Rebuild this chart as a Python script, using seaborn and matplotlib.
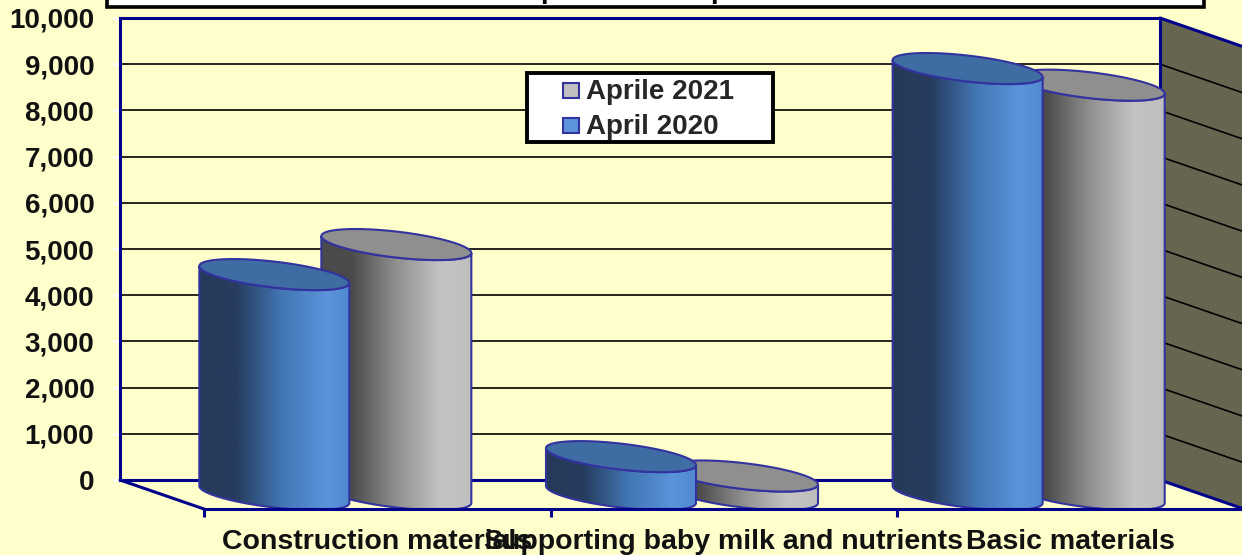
import numpy as np
import pandas as pd
import matplotlib
matplotlib.use("Agg")
import matplotlib.pyplot as plt
import seaborn as sns
from matplotlib.colors import LinearSegmentedColormap
from matplotlib.legend_handler import HandlerPatch
from matplotlib.patches import Patch, Polygon, Rectangle
from matplotlib.transforms import ScaledTranslation

materials = ["Construction materials", "Supporting baby milk and nutrients", "Basic materials"]
april_2020 = [4760, 820, 9220]
aprile_2021 = [5410, 400, 8860]
y_ticks = [0, 1000, 2000, 3000, 4000, 5000, 6000, 7000, 8000, 9000, 10000]

BG = "#FFFFCC"
NAVY = "#00008B"
EDGE = "#3333A0"
WALL = "#666650"
FONT = "Liberation Sans"

# pixels on the picture -> data units
W, H = 1242, 555
AX_L, AX_R, AX_T, AX_B = 120, 1160, 18, 480
PX_X = 3 / (AX_R - AX_L)
PX_Y = 10000 / (AX_B - AX_T)
DEPTH_X = 84 * PX_X
DEPTH_Y = 29 * PX_Y

df = pd.DataFrame({
    "material": materials * 2,
    "period": ["April 2020"] * 3 + ["Aprile 2021"] * 3,
    "value": april_2020 + aprile_2021,
})

sns.set_theme(style="white")
plt.rcParams["font.family"] = [FONT, "DejaVu Sans"]

fig = plt.figure(figsize=(W / 100, H / 100), dpi=100, facecolor=BG)
ax = fig.add_axes([AX_L / W, 1 - AX_B / H, (AX_R - AX_L) / W, (AX_B - AX_T) / H])
ax.set_facecolor(BG)

sns.barplot(data=df, x="material", y="value", hue="period",
            hue_order=["April 2020", "Aprile 2021"],
            palette=["#5B94DB", "#C0C0C0"], width=0.704, legend=False, ax=ax)
ax.set_xlim(-0.5, 2.5)
ax.set_ylim(0, 10000)
ax.set_autoscale_on(False)
ax.set_xlabel("")
ax.set_ylabel("")

blue_cmap = LinearSegmentedColormap.from_list("b", [(0, "#26395A"), (0.25, "#263C5E"), (0.55, "#4276B4"), (0.85, "#5B94DB"), (1, "#5089D0")])
grey_cmap = LinearSegmentedColormap.from_list("g", [(0, "#4A4A4A"), (0.2, "#4A4A4A"), (0.5, "#909090"), (0.8, "#C4C4C4"), (1, "#BEBEBE")])
gradient = np.linspace(0, 1, 256).reshape(1, -1)


def draw_cylinder(bar, cmap, top_color, z):
    cx = bar.get_x() + bar.get_width() / 2 + DEPTH_X / 2
    top = bar.get_height()
    base = -DEPTH_Y / 2
    top_y = top + base
    half = 75 * PX_X
    tilt = 8.5 * PX_Y
    minor = 13 * PX_Y
    floor = -DEPTH_Y

    t = np.linspace(0, np.pi, 80)
    # lower arc of an ellipse, right end to left end
    arc_x = cx + half * np.cos(t)
    arc_off = -tilt * np.cos(t) - minor * np.sin(t)
    body_x = np.r_[arc_x, arc_x[::-1]]
    body_y = np.r_[top_y + arc_off, np.maximum(base + arc_off, floor)[::-1]]
    body = Polygon(np.c_[body_x, body_y], closed=True, facecolor="none",
                   edgecolor=EDGE, lw=1.5, clip_on=False, zorder=z + 0.2)
    ax.add_patch(body)
    img = ax.imshow(gradient, cmap=cmap, aspect="auto", zorder=z,
                    extent=(cx - half, cx + half, floor, top_y + 1000))
    img.set_clip_box(fig.bbox)
    img.set_clip_path(body.get_path(), body.get_transform())

    s = np.linspace(0, 2 * np.pi, 160)
    ell_x = cx + half * np.cos(s)
    ell_y = top_y - tilt * np.cos(s) - minor * np.sin(s)
    ax.add_patch(Polygon(np.c_[ell_x, ell_y], closed=True, facecolor=top_color,
                         edgecolor=EDGE, lw=1.5, clip_on=False, zorder=z + 0.3))


for bar in ax.containers[1]:
    bar.set_visible(False)
    draw_cylinder(bar, grey_cmap, "#8F8F8F", 3)
for bar in ax.containers[0]:
    bar.set_visible(False)
    draw_cylinder(bar, blue_cmap, "#3F6DA3", 4)
ax.set_xlim(-0.5, 2.5)
ax.set_ylim(0, 10000)

# back wall grid and side wall
ax.set_yticks(y_ticks)
ax.set_yticklabels([f"{v:,}" for v in y_ticks], fontsize=20, fontweight="bold", color="#111111")
ax.hlines(y_ticks[1:-1], -0.5, 2.5, color="black", lw=1.2, zorder=1)
ax.tick_params(axis="y", length=5, width=2, color="white", pad=13.5, left=True)
for side in ["left", "top", "right", "bottom"]:
    ax.spines[side].set_visible(True)
    ax.spines[side].set_color(NAVY)
    ax.spines[side].set_linewidth(2.2)
    ax.spines[side].set_zorder(2)

x_r = 2.5
side_x = [x_r, x_r + DEPTH_X, x_r + DEPTH_X, x_r]
side_y = [10000, 10000 - DEPTH_Y, -DEPTH_Y, 0]
ax.add_patch(Polygon(np.c_[side_x, side_y], closed=True, facecolor=WALL, edgecolor="none",
                     clip_on=False, zorder=0.5))
for v in y_ticks[1:-1]:
    ax.plot([x_r, x_r + DEPTH_X], [v, v - DEPTH_Y], color="black", lw=1.2, clip_on=False, zorder=1)
ax.plot([x_r, x_r + DEPTH_X], [10000, 10000 - DEPTH_Y], color=NAVY, lw=2.2, clip_on=False, zorder=2)
ax.plot([x_r, x_r + DEPTH_X], [0, -DEPTH_Y], color=NAVY, lw=2.2, clip_on=False, zorder=2)
ax.plot([-0.5, -0.5 + DEPTH_X], [0, -DEPTH_Y], color=NAVY, lw=2.2, clip_on=False, zorder=2)
ax.plot([-0.5 + DEPTH_X, x_r + DEPTH_X], [-DEPTH_Y, -DEPTH_Y], color=NAVY, lw=2.2, clip_on=False, zorder=4.8)
for i in range(3):
    ax.plot([i - 0.5 + DEPTH_X] * 2, [-DEPTH_Y, -DEPTH_Y - 8 * PX_Y], color=NAVY, lw=2.2,
            clip_on=False, zorder=2, solid_capstyle="butt")

# category labels sit under the front edge of the floor
ax.tick_params(axis="x", length=0, pad=35)
shift = ScaledTranslation(84 / 100, 0, fig.dpi_scale_trans)
for label in ax.get_xticklabels():
    label.set_fontsize(20.5)
    label.set_fontweight("bold")
    label.set_color("#111111")
    label.set_transform(label.get_transform() + shift)


def square_handle(legend, orig_handle, xdescent, ydescent, width, height, fontsize):
    return Rectangle((width - 11, height / 2 - 5.5), 11, 11)


# legend frame is wider than its text, so the box is drawn on its own
ax.add_patch(Rectangle((527 / W, 1 - 141.5 / H), 246 / W, 69 / H, transform=fig.transFigure,
                       facecolor="white", edgecolor="black", lw=2.8, clip_on=False, zorder=5.5))
handles = [Patch(facecolor="#C0C0C0", edgecolor=EDGE, lw=1.5, label="Aprile 2021"),
           Patch(facecolor="#5B94DB", edgecolor=EDGE, lw=1.5, label="April 2020")]
leg = ax.legend(handles=handles, loc="upper left", bbox_to_anchor=(562 / W, 1 - 79 / H),
                bbox_transform=fig.transFigure, borderaxespad=0, frameon=False,
                handlelength=0.6, handleheight=0.6, handletextpad=0.25, labelspacing=0.34, borderpad=0,
                handler_map={Patch: HandlerPatch(patch_func=square_handle)},
                prop={"family": FONT, "weight": "bold", "size": 20})
leg.set_zorder(6)

# title box is cut by the top of the picture, only two descenders show
fig.add_artist(Rectangle((107 / W, 1 - 6.5 / H), 1097 / W, 20 / H, transform=fig.transFigure,
                         facecolor="white", edgecolor="black", lw=2.6))
for x in [540, 710]:
    fig.text(x / W, 1 + 2 / H, "p", fontsize=20, fontweight="bold", color="black", va="baseline")

fig.savefig("out.png", dpi=100, facecolor=BG)
